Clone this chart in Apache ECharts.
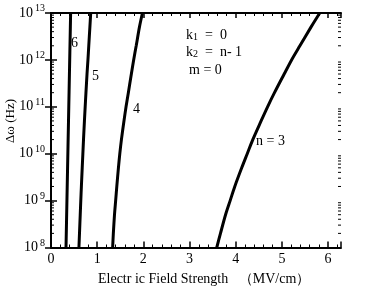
<!DOCTYPE html>
<html><head><meta charset="utf-8">
<script src="https://cdn.jsdelivr.net/npm/echarts@6/dist/echarts.min.js"></script>
<style>html,body{margin:0;padding:0;background:#fff}#c{width:372px;height:287px}</style>
</head><body><div id="c"></div>
<script>
// Field strength (MV/cm) read at each frequency level
var yLevels = [1e8, 2e8, 5e8, 1e9, 2e9, 5e9, 1e10, 2e10, 5e10, 1e11, 2e11, 5e11, 1e12, 2e12, 5e12, 1e13];
var curveN6 = [0.325, 0.331, 0.339, 0.345, 0.351, 0.359, 0.365, 0.371, 0.379, 0.385, 0.391, 0.399, 0.405, 0.411, 0.419, 0.425];
var curveN5 = [0.605, 0.617, 0.633, 0.645, 0.658, 0.676, 0.69, 0.704, 0.724, 0.74, 0.757, 0.78, 0.80, 0.818, 0.842, 0.86];
var curveN4 = [1.335, 1.35, 1.375, 1.40, 1.425, 1.46, 1.49, 1.525, 1.58, 1.625, 1.675, 1.74, 1.79, 1.845, 1.915, 1.98];
var curveN3 = [3.59, 3.67, 3.78, 3.88, 3.98, 4.13, 4.25, 4.37, 4.55, 4.69, 4.84, 5.05, 5.21, 5.39, 5.63, 5.82];
var xMin = 0, xMax = 6.28, yMin = 1e8, yMax = 1e13;
var decades = [1e8, 1e9, 1e10, 1e11, 1e12];
var minorMult = [2, 3, 4, 5, 6, 7, 8, 9];

var FONT = '"Liberation Serif", "DejaVu Serif", serif';
function pairs(xs){ return xs.map(function(x,i){ return [x, yLevels[i]]; }); }
var minorVals = [];
decades.forEach(function(d){ minorMult.forEach(function(m){ minorVals.push(d*m); }); });

function lineSeries(xs){
  return {type:'line', data:pairs(xs), smooth:0.3, symbol:'none', xAxisIndex:0, yAxisIndex:0,
    lineStyle:{color:'#000', width:3}, z:3};
}
var chart = echarts.init(document.getElementById('c'));
chart.setOption({
  animation:false,
  grid:{left:51, top:13, right:31, bottom:39.5, containLabel:false, outerBoundsMode:'none'},
  xAxis:[{type:'value', min:xMin, max:xMax, interval:1, position:'bottom',
    axisLine:{lineStyle:{color:'#000', width:2}},
    axisTick:{inside:true, length:6, lineStyle:{color:'#000', width:1.5}},
    minorTick:{show:true, splitNumber:5, length:3, lineStyle:{color:'#000', width:1}},
    axisLabel:{color:'#000', fontFamily:FONT, fontSize:14, margin:5,
      formatter:function(v){ return Math.abs(v-Math.round(v))<1e-6 ? String(Math.round(v)) : ''; }},
    splitLine:{show:false}},
   {type:'value', min:xMin, max:xMax, interval:1, position:'top',
    axisLine:{lineStyle:{color:'#000', width:2}},
    axisTick:{inside:true, length:5, lineStyle:{color:'#000', width:1.5}},
    minorTick:{show:true, splitNumber:5, length:3, lineStyle:{color:'#000', width:1}},
    axisLabel:{show:false}, splitLine:{show:false}}],
  yAxis:[{type:'log', logBase:10, min:yMin, max:yMax, position:'left',
    axisLine:{lineStyle:{color:'#000', width:2}},
    axisTick:{inside:true, length:6, lineStyle:{color:'#000', width:1.5}},
    axisLabel:{color:'#000', fontFamily:FONT, fontSize:14, margin:6,
      formatter:function(v){ return '10{s|' + Math.round(Math.log10(v)) + '}'; },
      rich:{s:{fontSize:10, fontFamily:FONT, color:'#000', verticalAlign:'bottom', padding:[0,0,9,2]}}},
    splitLine:{show:false}},
   {type:'log', logBase:10, min:yMin, max:yMax, position:'right',
    axisLine:{lineStyle:{color:'#000', width:2}},
    axisTick:{inside:true, length:6, lineStyle:{color:'#000', width:1.5}},
    axisLabel:{show:false}, splitLine:{show:false}}],
  series:[
    lineSeries(curveN6), lineSeries(curveN5), lineSeries(curveN4), lineSeries(curveN3),
    {type:'custom', xAxisIndex:0, yAxisIndex:0, data:minorVals, clip:false, z:5,
      renderItem:function(params, api){
        var v = api.value(0);
        var pl = api.coord([xMin, v]), pr = api.coord([xMax, v]);
        return {type:'group', children:[
          {type:'line', shape:{x1:pl[0], y1:pl[1], x2:pl[0]+3, y2:pl[1]}, style:{stroke:'#000', lineWidth:1}},
          {type:'line', shape:{x1:pr[0], y1:pr[1], x2:pr[0]-3, y2:pr[1]}, style:{stroke:'#000', lineWidth:1}}
        ]};
      }}
  ],
  graphic:[
    {type:'text', x:11, y:121, rotation:Math.PI/2, style:{text:'Δω (Hz)', font:'13px '+FONT, fill:'#000', align:'center', verticalAlign:'middle'}},
    {type:'text', left:71, top:36, style:{text:'6', font:'14px '+FONT, fill:'#000'}},
    {type:'text', left:92, top:69, style:{text:'5', font:'14px '+FONT, fill:'#000'}},
    {type:'text', left:133, top:102, style:{text:'4', font:'14px '+FONT, fill:'#000'}},
    {type:'text', left:256, top:134, style:{text:'n = 3', font:'14px '+FONT, fill:'#000'}},
    {type:'text', left:186, top:28, style:{rich:{a:{font:'14px '+FONT, fill:'#000'}, b:{font:'10px '+FONT, fill:'#000', verticalAlign:'bottom'}}, text:'{a|k}{b|1}{a|\u2002=\u20020}'}},
    {type:'text', left:186, top:45, style:{rich:{a:{font:'14px '+FONT, fill:'#000'}, b:{font:'10px '+FONT, fill:'#000', verticalAlign:'bottom'}}, text:'{a|k}{b|2}{a|\u2002=\u2002n- 1}'}},
    {type:'text', left:189, top:63, style:{text:'m = 0', font:'14px '+FONT, fill:'#000'}},
    {type:'text', left:98, top:272, style:{text:'Electr ic Field Strength   （MV/cm）', font:'14px '+FONT, fill:'#000'}}
  ]
});
</script></body></html>
